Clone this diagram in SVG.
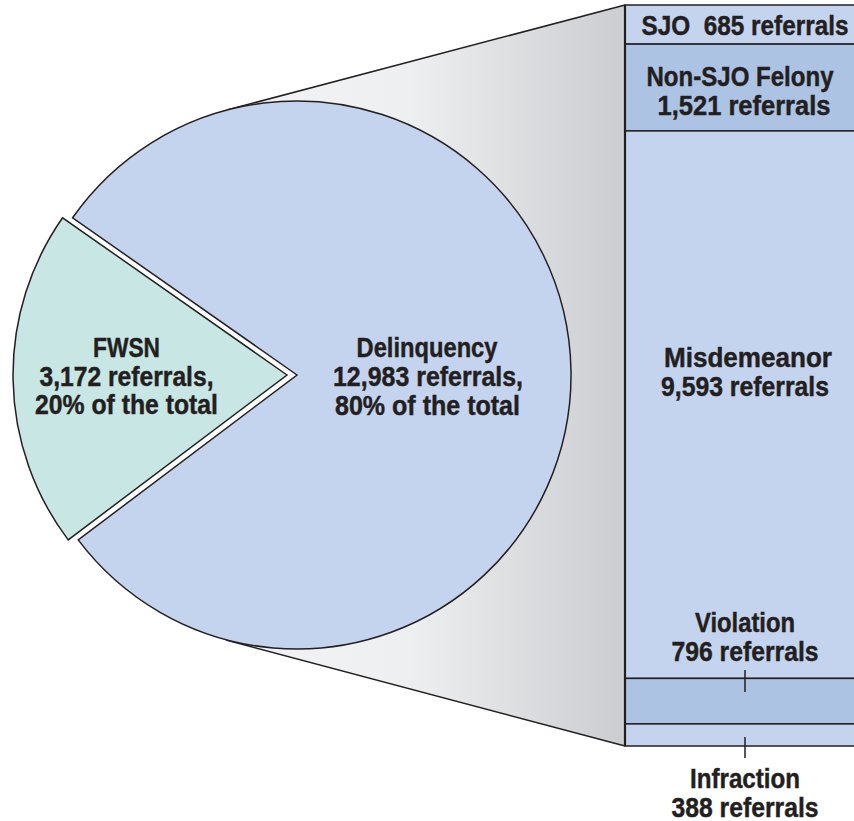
<svg xmlns="http://www.w3.org/2000/svg" width="854" height="821" viewBox="0 0 854 821">
<defs>
<linearGradient id="fan" gradientUnits="userSpaceOnUse" x1="230" y1="0" x2="625" y2="0">
<stop offset="0" stop-color="#f2f3f5"/>
<stop offset="0.45" stop-color="#eeeff1"/>
<stop offset="1" stop-color="#cbcdd0"/>
</linearGradient>
<style>
.lbl{font-family:"Liberation Sans Narrow","Liberation Sans",Arial,sans-serif;font-weight:bold;font-size:28px;fill:#231f20;stroke:#231f20;stroke-width:0.45;text-anchor:middle;white-space:pre}
.edge{stroke:#231f20;stroke-width:1.5;fill:none}
.light{fill:#c5d4ee;stroke:#231f20;stroke-width:1.5}
.dark{fill:#adc3e4;stroke:#231f20;stroke-width:1.5}
</style>
</defs>
<rect width="854" height="821" fill="#ffffff"/>
<g id="fan-out">
<polygon points="227,110 625,5 625,746 226,640 297,375" fill="url(#fan)"/>
</g>
<g id="connectors">
<line class="edge" x1="227" y1="110" x2="625" y2="5"/>
<line class="edge" x1="226" y1="640" x2="625" y2="746"/>
</g>
<g id="delinquency">
<path d="M297,375 L72.6,217.8 A274,274 0 1 1 78.2,539.9 Z" fill="#c5d4ee" stroke="#231f20" stroke-width="1.5" stroke-linejoin="miter"/>
<text class="lbl" x="427" y="357" textLength="141" lengthAdjust="spacingAndGlyphs">Delinquency</text>
<text class="lbl" x="428" y="386" textLength="190" lengthAdjust="spacingAndGlyphs">12,983 referrals,</text>
<text class="lbl" x="427.5" y="415" textLength="185" lengthAdjust="spacingAndGlyphs">80% of the total</text>
</g>
<g id="fwsn">
<path d="M287,375 L62.6,217.8 A274,274 0 0 0 68.2,539.9 Z" fill="#c8e6e3" stroke="#231f20" stroke-width="1.5" stroke-linejoin="miter"/>
<text class="lbl" x="126.5" y="357" textLength="67" lengthAdjust="spacingAndGlyphs">FWSN</text>
<text class="lbl" x="126.5" y="386" textLength="174" lengthAdjust="spacingAndGlyphs">3,172 referrals,</text>
<text class="lbl" x="126.5" y="414" textLength="183" lengthAdjust="spacingAndGlyphs">20% of the total</text>
</g>
<g id="sjo">
<rect class="light" x="625" y="5" width="240" height="39.1"/>
<text class="lbl" x="745" y="35" textLength="207" lengthAdjust="spacingAndGlyphs">SJO  685 referrals</text>
</g>
<g id="non-sjo-felony">
<rect class="dark" x="625" y="44.1" width="240" height="86.8"/>
<text class="lbl" x="740" y="86" textLength="187" lengthAdjust="spacingAndGlyphs">Non-SJO Felony</text>
<text class="lbl" x="744" y="115" textLength="173" lengthAdjust="spacingAndGlyphs">1,521 referrals</text>
</g>
<g id="misdemeanor">
<rect class="light" x="625" y="130.9" width="240" height="547.5"/>
<text class="lbl" x="748" y="367" textLength="168" lengthAdjust="spacingAndGlyphs">Misdemeanor</text>
<text class="lbl" x="745" y="396" textLength="168" lengthAdjust="spacingAndGlyphs">9,593 referrals</text>
</g>
<g id="violation">
<rect class="dark" x="625" y="678.4" width="240" height="45.5"/>
<text class="lbl" x="745" y="631.5" textLength="100" lengthAdjust="spacingAndGlyphs">Violation</text>
<text class="lbl" x="745" y="660.5" textLength="147" lengthAdjust="spacingAndGlyphs">796 referrals</text>
</g>
<g id="infraction">
<rect class="light" x="625" y="723.9" width="240" height="22.1"/>
<text class="lbl" x="745" y="788" textLength="110" lengthAdjust="spacingAndGlyphs">Infraction</text>
<text class="lbl" x="745" y="816.5" textLength="147" lengthAdjust="spacingAndGlyphs">388 referrals</text>
</g>
<g id="ticks">
<line class="edge" x1="745" y1="670" x2="745" y2="692"/>
<line class="edge" x1="745" y1="737" x2="745" y2="758"/>
<line x1="625" y1="5" x2="625" y2="746" stroke="#231f20" stroke-width="2.2"/>
</g>
</svg>
